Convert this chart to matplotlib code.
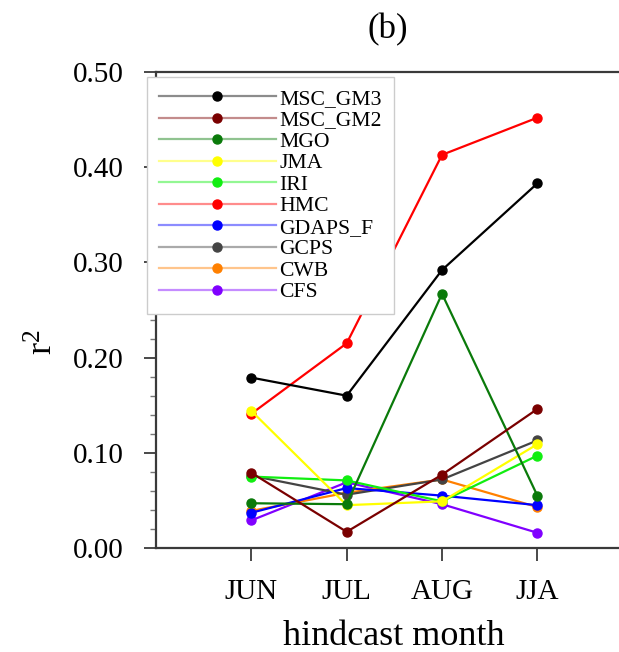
import matplotlib
matplotlib.use("Agg")
import matplotlib.pyplot as plt
from matplotlib.lines import Line2D
from matplotlib.ticker import MultipleLocator, FormatStrFormatter
from matplotlib.colors import to_rgba

plt.rcParams["font.family"] = ["Liberation Serif", "DejaVu Serif"]
plt.rcParams["mathtext.fontset"] = "custom"
plt.rcParams["mathtext.rm"] = "Liberation Serif"
plt.rcParams["mathtext.it"] = "Liberation Serif:italic"

MONTHS = ["JUN", "JUL", "AUG", "JJA"]
MODELS = ["MSC_GM3", "MSC_GM2", "MGO", "JMA", "IRI", "HMC",
          "GDAPS_F", "GCPS", "CWB", "CFS"]
COLORS = ["#000000", "#7a0000", "#0a7a0a", "#ffff00", "#11ee11", "#ff0000",
          "#0000ff", "#444444", "#ff8000", "#8000ff"]

# r^2 per model, JUN / JUL / AUG / JJA
MSC_GM3 = [0.179, 0.160, 0.292, 0.383]
MSC_GM2 = [0.079, 0.017, 0.077, 0.146]
MGO = [0.047, 0.046, 0.267, 0.055]
JMA = [0.144, 0.045, 0.049, 0.109]
IRI = [0.075, 0.071, 0.049, 0.097]
HMC = [0.141, 0.215, 0.413, 0.452]
GDAPS_F = [0.037, 0.063, 0.055, 0.045]
GCPS = [0.076, 0.056, 0.072, 0.113]
CWB = [0.039, 0.058, 0.072, 0.043]
CFS = [0.029, 0.069, 0.046, 0.016]

VALUES = [MSC_GM3, MSC_GM2, MGO, JMA, IRI, HMC, GDAPS_F, GCPS, CWB, CFS]

W, H = 619, 652
fig = plt.figure(figsize=(W / 100, H / 100), dpi=100)
ax = fig.add_axes([156 / W, 104 / H, 476.7 / W, 476 / H])

x = list(range(1, len(MONTHS) + 1))
# draw last legend entry first so MSC_GM3 ends up on top
for name, vals, col in reversed(list(zip(MODELS, VALUES, COLORS))):
    ax.plot(x, vals, color=col, linewidth=1.6, marker="o", markersize=6.5,
            markeredgecolor=col, markerfacecolor=col)

ax.set_xlim(0, 5)
ax.set_ylim(0, 0.5)
ax.set_xticks(x)
ax.set_xticklabels(MONTHS)
ax.yaxis.set_major_locator(MultipleLocator(0.1))
ax.yaxis.set_minor_locator(MultipleLocator(0.02))
ax.yaxis.set_major_formatter(FormatStrFormatter("%.2f"))

spine_col = "#3a3a3a"
for side in ["left", "top", "bottom"]:
    ax.spines[side].set_color(spine_col)
    ax.spines[side].set_linewidth(1.6)
ax.spines["right"].set_visible(False)

ax.tick_params(axis="y", which="major", direction="out", length=9, width=1.3,
               color=spine_col, labelsize=21, pad=14)
ax.tick_params(axis="y", which="minor", direction="out", length=4.3, width=1.0,
               color="#777777")
ax.tick_params(axis="x", which="major", direction="out", length=9, width=1.3,
               color=spine_col, labelsize=21, pad=13.5)

fig.text(388 / W, 1 - 38 / H, "(b)", fontsize=25, ha="center", va="baseline")
fig.text(394 / W, 1 - 645 / H, "hindcast month", fontsize=26,
         ha="center", va="baseline")
fig.text(61 / W, 310 / H, r"r$^2$", fontsize=26, rotation=90,
         ha="right", va="center")

handles = [Line2D([], [], color=to_rgba(c, 0.45), linewidth=1.6, marker="o",
                  markersize=6.5, markerfacecolor=c, markeredgecolor=c)
           for c in COLORS]
leg = ax.legend(handles, MODELS, loc="upper left",
                bbox_to_anchor=(147 / W, 1 - 77 / H),
                bbox_transform=fig.transFigure, borderaxespad=0,
                fontsize=15.6, handlelength=5.4, handletextpad=0.15,
                borderpad=0.55, labelspacing=0.06, fancybox=False,
                framealpha=1, edgecolor="#cccccc")
leg.get_frame().set_linewidth(1.0)

fig.savefig("out.png", dpi=100)
